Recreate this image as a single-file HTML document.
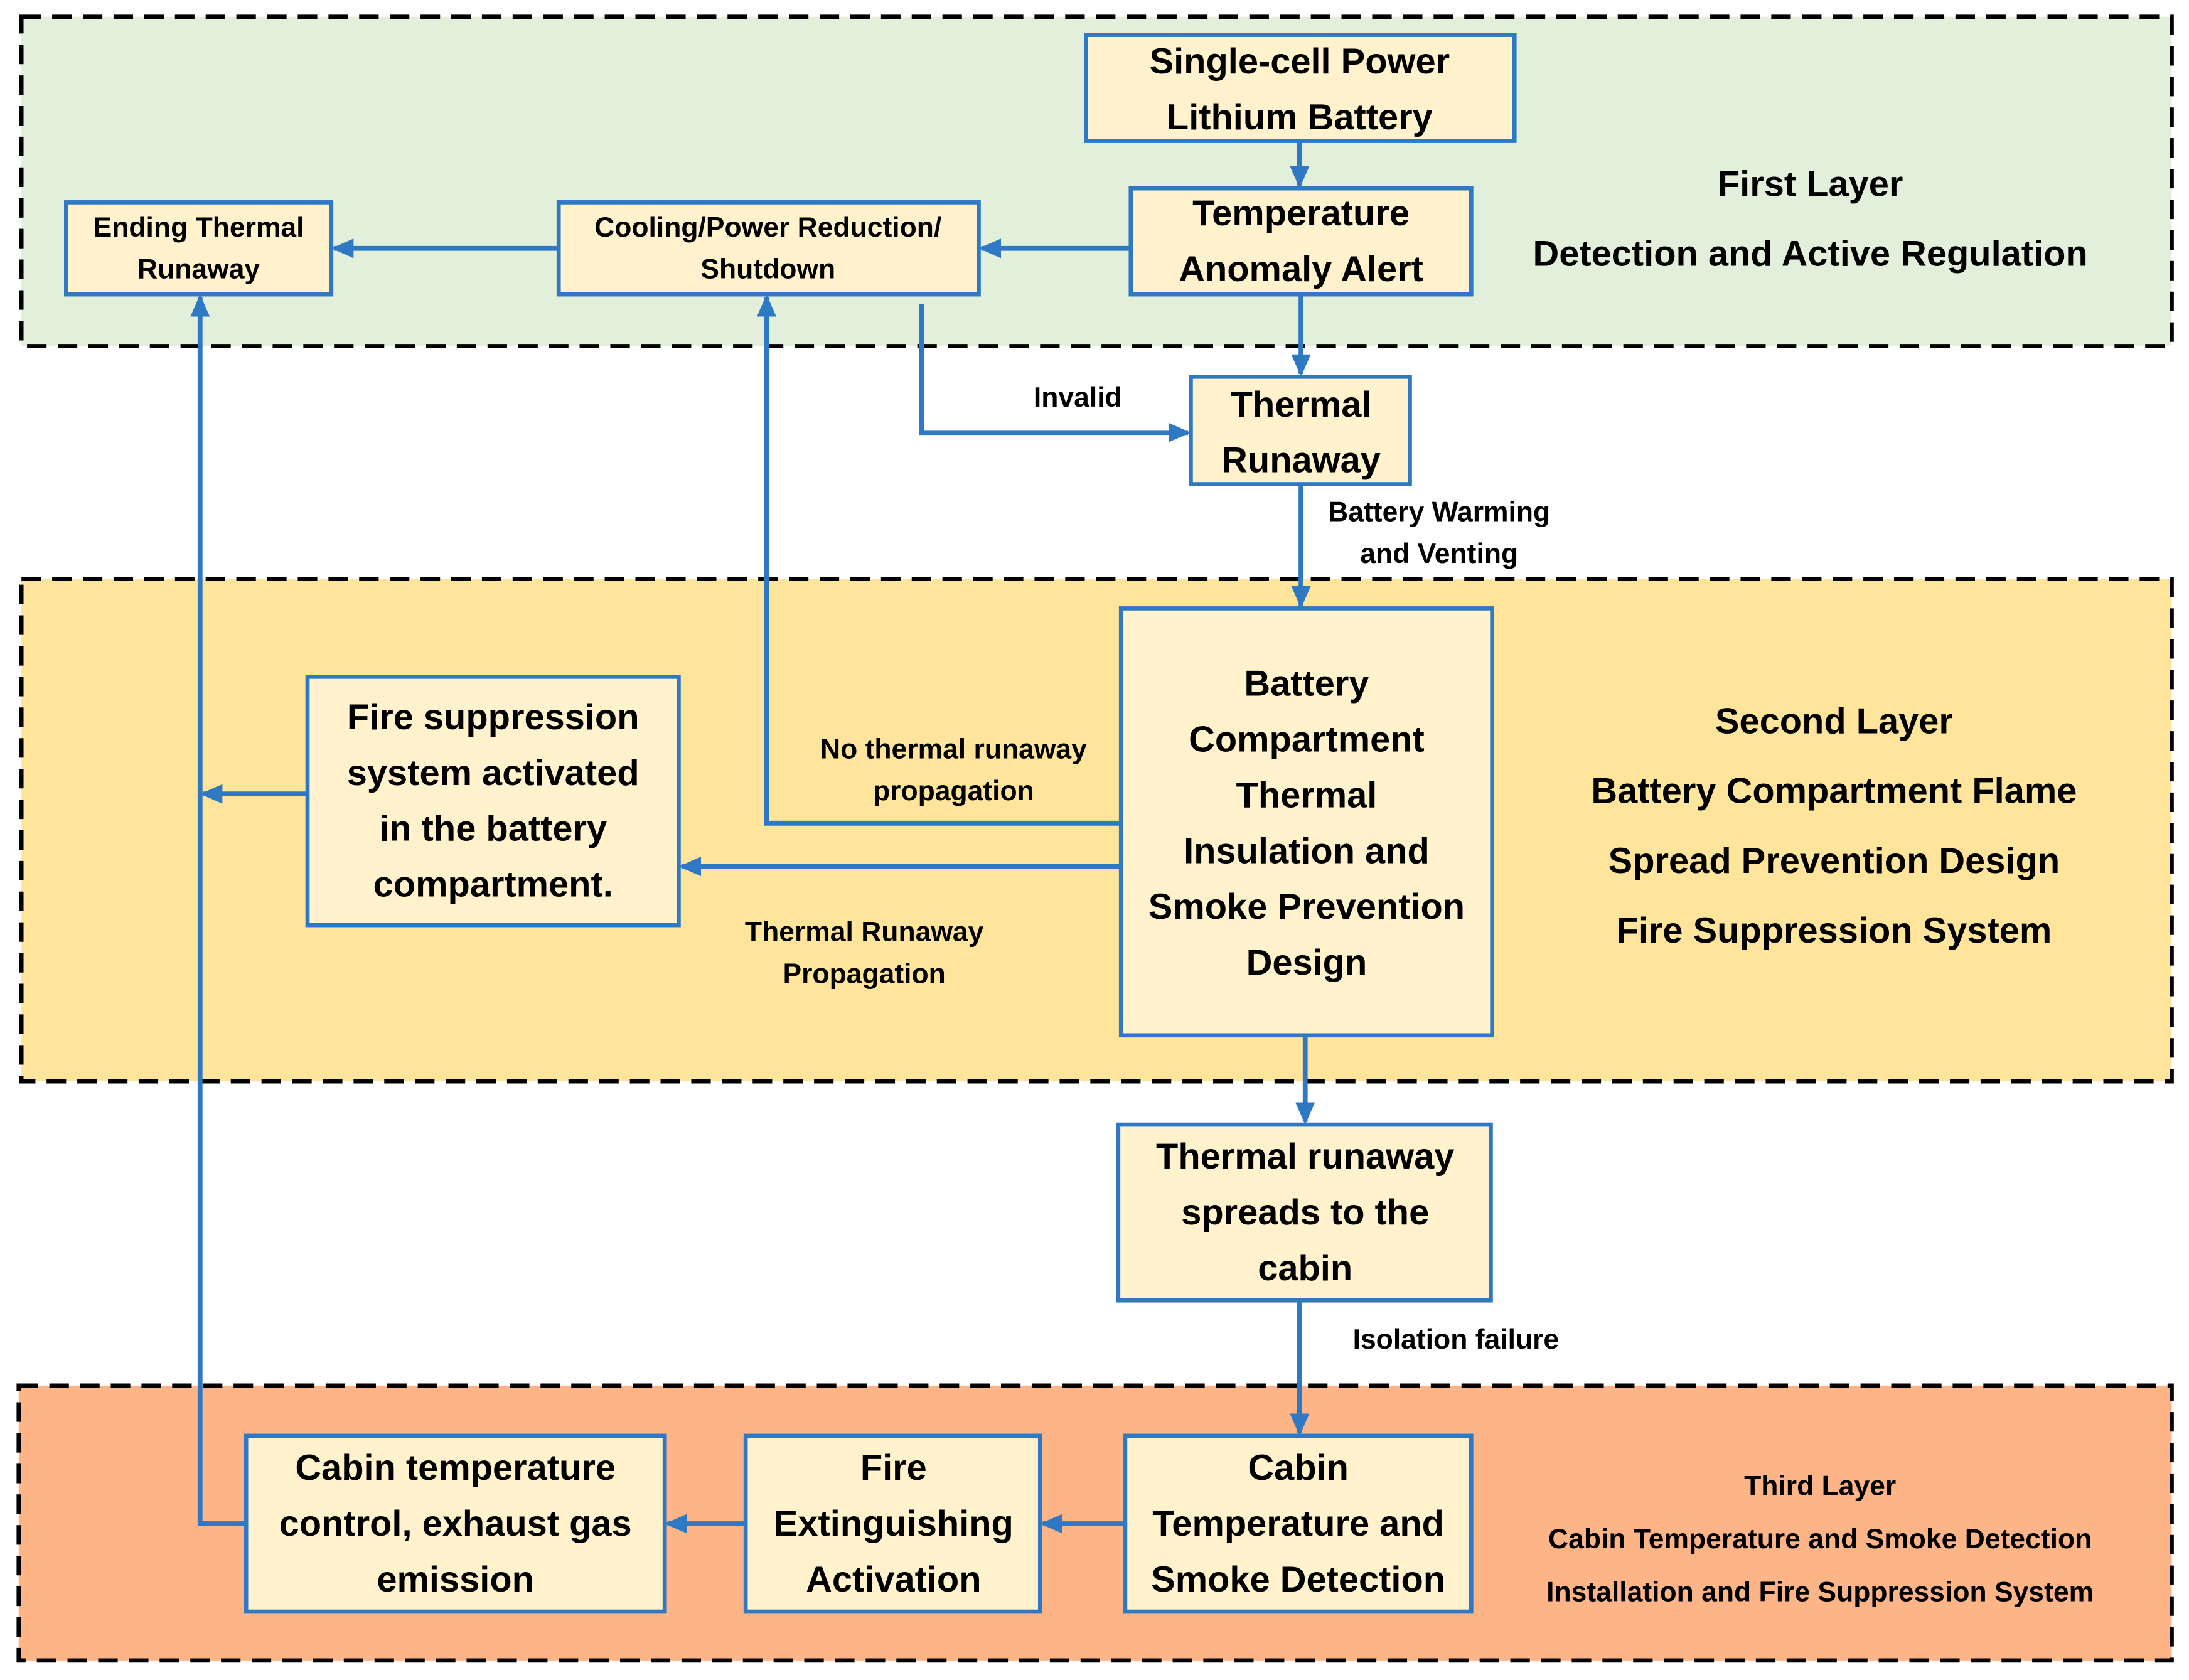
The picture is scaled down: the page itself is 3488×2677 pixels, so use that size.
<!DOCTYPE html>
<html><head><meta charset="utf-8"><style>
html,body{margin:0;padding:0;background:#fff}
svg{display:block}
text{font-family:"Liberation Sans",sans-serif;font-weight:bold;fill:#000;text-anchor:middle;dominant-baseline:central}
.b{fill:#fff2cc;stroke:#2f78c4;stroke-width:3}
.l{fill:none;stroke:#2f78c4;stroke-width:3.5}
.layer{stroke:#000;stroke-width:3;stroke-dasharray:14 8}
</style></head><body>
<svg width="3488" height="2677" viewBox="0 0 1568 1204" xmlns="http://www.w3.org/2000/svg">
<defs>
<marker id="m" markerWidth="16" markerHeight="14" refX="14" refY="7" orient="auto" markerUnits="userSpaceOnUse"><path d="M0,0 L16,7 L0,14 z" fill="#2f78c4"/></marker></defs>
<rect class="layer" x="15" y="12" width="1541" height="236" fill="#e2efda"/>
<rect class="layer" x="15" y="415" width="1541" height="360" fill="#fee59b"/>
<rect class="layer" x="13" y="993" width="1543" height="197" fill="#fdb486"/>

<g class="l">
<path d="M931,101 V133" marker-end="url(#m)"/>
<path d="M810,178 H703" marker-end="url(#m)"/>
<path d="M400,178 H239" marker-end="url(#m)"/>
<path d="M932,211 V268" marker-end="url(#m)"/>
<path d="M660,218 V310 H851" marker-end="url(#m)"/>
<path d="M932,347 V434" marker-end="url(#m)"/>
<path d="M803,590 H549 V213" marker-end="url(#m)"/>
<path d="M805,621 H488" marker-end="url(#m)"/>
<path d="M220,569 H145" marker-end="url(#m)"/>
<path d="M176,1092 H143 V213" marker-end="url(#m)"/>
<path d="M935,742 V804" marker-end="url(#m)"/>
<path d="M931,932 V1027" marker-end="url(#m)"/>
<path d="M806,1092 H747" marker-end="url(#m)"/>
<path d="M534,1092 H478" marker-end="url(#m)"/>
</g>

<rect class="b" x="778" y="25" width="307" height="76"/>
<text x="931" y="44" font-size="26">Single-cell Power</text><text x="931" y="84" font-size="26">Lithium Battery</text>
<rect class="b" x="810" y="135" width="244" height="76"/>
<text x="932" y="153" font-size="26">Temperature</text><text x="932" y="193" font-size="26">Anomaly Alert</text>
<rect class="b" x="400" y="145" width="301" height="66"/>
<text x="550" y="163" font-size="20">Cooling/Power Reduction/</text><text x="550" y="193" font-size="20">Shutdown</text>
<rect class="b" x="47" y="145" width="190" height="66"/>
<text x="142" y="163" font-size="20">Ending Thermal</text><text x="142" y="193" font-size="20">Runaway</text>
<rect class="b" x="853" y="270" width="157" height="77"/>
<text x="932" y="290" font-size="26">Thermal</text><text x="932" y="330" font-size="26">Runaway</text>
<rect class="b" x="803" y="436" width="266" height="306"/>
<g font-size="26"><text x="936" y="490">Battery</text><text x="936" y="530">Compartment</text><text x="936" y="570">Thermal</text><text x="936" y="610">Insulation and</text><text x="936" y="650">Smoke Prevention</text><text x="936" y="690">Design</text></g>
<rect class="b" x="220" y="485" width="266" height="178"/>
<g font-size="26"><text x="353" y="514">Fire suppression</text><text x="353" y="554">system activated</text><text x="353" y="594">in the battery</text><text x="353" y="634">compartment.</text></g>
<rect class="b" x="801" y="806" width="267" height="126"/>
<g font-size="26"><text x="935" y="829">Thermal runaway</text><text x="935" y="869">spreads to the</text><text x="935" y="909">cabin</text></g>
<rect class="b" x="806" y="1029" width="248" height="126"/>
<g font-size="26"><text x="930" y="1052">Cabin</text><text x="930" y="1092">Temperature and</text><text x="930" y="1132">Smoke Detection</text></g>
<rect class="b" x="534" y="1029" width="211" height="126"/>
<g font-size="26"><text x="640" y="1052">Fire</text><text x="640" y="1092">Extinguishing</text><text x="640" y="1132">Activation</text></g>
<rect class="b" x="176" y="1029" width="300" height="126"/>
<g font-size="26"><text x="326" y="1052">Cabin temperature</text><text x="326" y="1092">control, exhaust gas</text><text x="326" y="1132">emission</text></g>

<g font-size="20">
<text x="772" y="285">Invalid</text>
<text x="1031" y="367">Battery Warming</text><text x="1031" y="397">and Venting</text>
<text x="683" y="537">No thermal runaway</text><text x="683" y="567">propagation</text>
<text x="619" y="668">Thermal Runaway</text><text x="619" y="698">Propagation</text>
<text x="1043" y="960">Isolation failure</text>
</g>
<g font-size="26">
<text x="1297" y="132">First Layer</text><text x="1297" y="182">Detection and Active Regulation</text>
<text x="1314" y="517">Second Layer</text><text x="1314" y="567">Battery Compartment Flame</text><text x="1314" y="617">Spread Prevention Design</text><text x="1314" y="667">Fire Suppression System</text>
</g>
<g font-size="20">
<text x="1304" y="1065">Third Layer</text><text x="1304" y="1103">Cabin Temperature and Smoke Detection</text><text x="1304" y="1141">Installation and Fire Suppression System</text>
</g>
</svg>
</body></html>
